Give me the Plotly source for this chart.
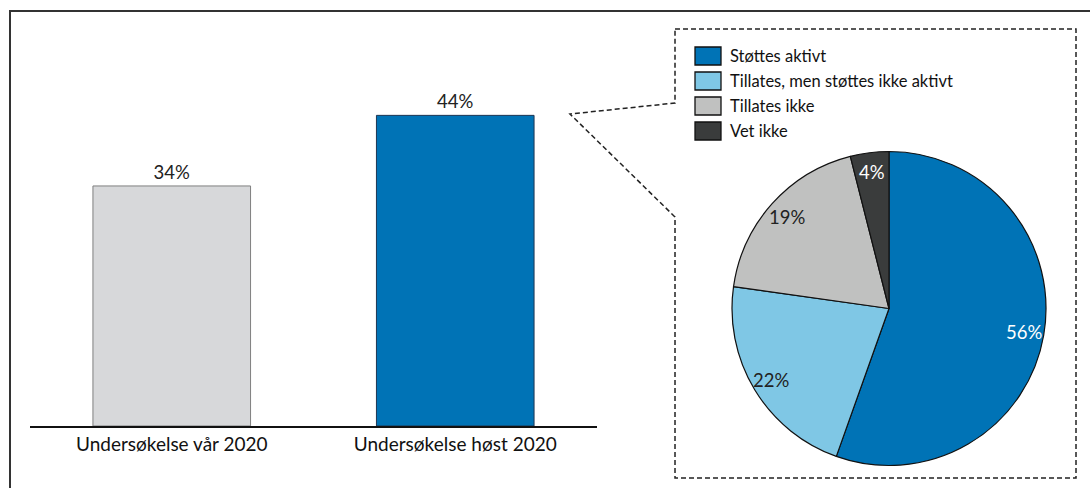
import math
import plotly.graph_objects as go

# Survey comparison (bar) and breakdown of the autumn survey (pie)
bar_categories = ["Undersøkelse vår 2020", "Undersøkelse høst 2020"]
bar_values = [34, 44]
bar_colors = ["#d7d8da", "#0073b6"]
bar_outline = ["#7f7f7f", "#1d3653"]

pie_labels = ["Støttes aktivt", "Tillates, men støttes ikke aktivt", "Tillates ikke", "Vet ikke"]
pie_values = [56, 22, 19, 4]
pie_colors = ["#0073b6", "#7fc7e5", "#c0c1c0", "#3a3c3c"]
pie_text_colors = ["white", "#222222", "#222222", "white"]

W, H = 1090, 488
FONT = "Lato"
FS_TICK = 19
FS_PCT = 18.5
FS_LEG = 16.5


def px(x):
    return x / W


def py(y):
    return 1 - y / H


fig = go.Figure()

fig.add_trace(go.Bar(
    x=bar_categories, y=bar_values,
    marker=dict(color=bar_colors, line=dict(color=bar_outline, width=1)),
    text=[f"{v}%" for v in bar_values], textposition="outside",
    textfont=dict(family=FONT, size=FS_PCT, color="#222222"),
    cliponaxis=False, width=0.556, showlegend=False,
))

# pie geometry (pixels)
cx, cy, r = 889, 308.5, 157
fig.add_trace(go.Pie(
    labels=pie_labels, values=pie_values, sort=False, direction="clockwise",
    rotation=0, textinfo="none", hoverinfo="label+value",
    marker=dict(colors=pie_colors, line=dict(color="#111111", width=1.2)),
    domain=dict(x=[px(cx - r), px(cx + r)], y=[py(cy + r), py(cy - r)]),
    showlegend=False,
))

annotations = []
total = sum(pie_values)
cum = 0
for val, col in zip(pie_values, pie_text_colors):
    mid = (cum + val / 2) / total * 2 * math.pi
    cum += val
    rr = 0.875 * r
    annotations.append(dict(
        x=px(cx + rr * math.sin(mid)), y=py(cy - rr * math.cos(mid)),
        xref="paper", yref="paper", text=f"{val}%", showarrow=False,
        xanchor="center", yanchor="middle",
        font=dict(family=FONT, size=FS_PCT, color=col),
    ))

shapes = []
# outer frame
shapes.append(dict(type="rect", xref="paper", yref="paper",
                   x0=px(10), x1=px(1100), y0=py(500), y1=py(11),
                   line=dict(color="#333333", width=2), layer="below"))
# dashed callout box
pts = [(675, 29), (1076, 29), (1076, 478), (675, 478), (675, 217), (570, 114), (675, 103)]
path = "M " + " L ".join(f"{px(x):.5f},{py(y):.5f}" for x, y in pts) + " Z"
shapes.append(dict(type="path", xref="paper", yref="paper", path=path,
                   line=dict(color="#222222", width=1.5, dash="5px,3px")))

# legend
for i, (lab, col) in enumerate(zip(pie_labels, pie_colors)):
    yc = 56 + i * 25
    shapes.append(dict(type="rect", xref="paper", yref="paper",
                       x0=px(695), x1=px(721), y0=py(yc + 9), y1=py(yc - 9),
                       fillcolor=col, line=dict(color="#111111", width=1.3)))
    annotations.append(dict(x=px(728), y=py(yc), xref="paper", yref="paper",
                            text=lab, showarrow=False, xanchor="left", yanchor="middle",
                            font=dict(family=FONT, size=FS_LEG, color="#111111")))

fig.update_layout(
    width=W, height=H, margin=dict(l=0, r=0, t=0, b=0),
    paper_bgcolor="white", plot_bgcolor="white",
    font=dict(family=FONT, size=FS_TICK, color="#111111"),
    bargap=0.444,
    xaxis=dict(domain=[px(30), px(597)], showline=True, linecolor="#111111",
               linewidth=1.5, ticks="", showgrid=False, zeroline=False,
               tickfont=dict(family=FONT, size=FS_TICK, color="#111111"),
               anchor="y"),
    yaxis=dict(domain=[py(426), py(37.7)], range=[0, 55], visible=False,
               showgrid=False, zeroline=False),
    shapes=shapes, annotations=annotations,
)

fig.write_html("out.html")
